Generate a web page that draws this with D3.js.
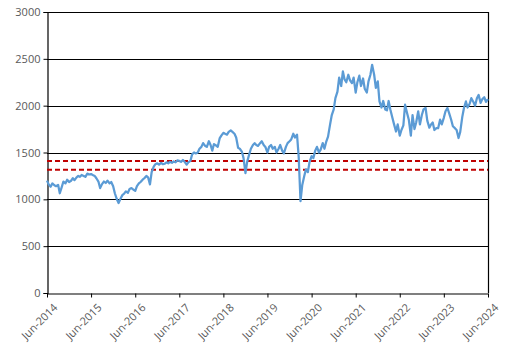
<!DOCTYPE html>
<html>
<head>
<meta charset="utf-8">
<script src="https://cdn.jsdelivr.net/npm/d3@7"></script>
<style>
  html, body { margin: 0; padding: 0; background: #fff; }
  svg { display: block; }
</style>
</head>
<body>
<svg id="chart" width="506" height="353"></svg>
<script>
// Series: semi-monthly observations (1st and 15th) from Jun-2014 to Jun-2024
const startDate = "2014-06-01";
const values = [
  1200,1160,1135,1170,1150,1140,1155,1065,1130,1190,1170,1210,1185,1195,1225,1205,1235,1250,1240,1260,1250,1240,1275,1265,
  1270,1260,1250,1225,1190,1120,1165,1190,1175,1200,1170,1185,1140,1065,1000,960,1010,1045,1060,1085,1070,1110,1120,1105,
  1090,1140,1170,1185,1210,1225,1250,1235,1160,1290,1350,1375,1385,1370,1390,1375,1380,1395,1385,1400,1390,1405,1395,1415,
  1410,1400,1420,1400,1370,1395,1410,1480,1500,1490,1500,1540,1560,1600,1570,1560,1620,1580,1520,1590,1575,1560,1650,1680,
  1710,1700,1690,1720,1735,1720,1700,1660,1550,1540,1510,1440,1280,1400,1480,1540,1580,1600,1580,1570,1600,1620,1580,1560,
  1500,1560,1580,1540,1560,1500,1540,1580,1520,1490,1560,1600,1620,1640,1700,1660,1690,1450,980,1150,1250,1320,1290,1400,
  1460,1440,1520,1560,1500,1530,1600,1540,1620,1670,1800,1900,1960,2080,2150,2300,2210,2365,2280,2250,2330,2270,2240,2300,
  2140,2250,2320,2210,2290,2180,2140,2260,2330,2436,2330,2190,2260,2045,1980,2050,1960,1950,2050,1960,1870,1800,1724,1800,
  1680,1740,1790,2010,1920,1850,1680,1900,1750,1820,1940,1800,1900,1960,1975,1840,1765,1800,1820,1740,1760,1760,1850,1800,
  1870,1940,1975,1920,1850,1780,1760,1740,1655,1720,1880,1975,2045,1980,2020,2080,2040,2000,2080,2115,2030,2070,2090,2040,
  2070
];
const refLines = [1410, 1315];
const yTicks = [0, 500, 1000, 1500, 2000, 2500, 3000];
const xTickYears = [2014, 2015, 2016, 2017, 2018, 2019, 2020, 2021, 2022, 2023, 2024];

const parse = d3.timeParse("%Y-%m-%d");
const t0 = parse(startDate);
const data = values.map((v, i) => {
  const m = d3.timeMonth.offset(t0, Math.floor(i / 2));
  const d = i % 2 === 0 ? m : d3.timeDay.offset(m, 14);
  return { date: d, value: v };
});

const svg = d3.select("#chart");
const margin = { left: 47, right: 18, top: 12, bottom: 60 };
const W = 506, H = 353;
const x = d3.scaleTime()
  .domain([new Date(2014, 5, 1), new Date(2024, 5, 1)])
  .range([margin.left, W - margin.right]);
const y = d3.scaleLinear().domain([0, 3000]).range([H - margin.bottom, margin.top]);

const font = "'Open Sans', 'Segoe UI', sans-serif";
const textColor = "#595959";

// gridlines
svg.append("g").selectAll("line").data(yTicks.filter(t => t > 0)).join("line")
  .attr("x1", x.range()[0]).attr("x2", x.range()[1])
  .attr("y1", d => Math.round(y(d)) + 0.5).attr("y2", d => Math.round(y(d)) + 0.5)
  .attr("stroke", "#000").attr("stroke-width", 1.2);

// right border
svg.append("line")
  .attr("x1", Math.round(x.range()[1]) + 0.5).attr("x2", Math.round(x.range()[1]) + 0.5)
  .attr("y1", y(3000)).attr("y2", y(0))
  .attr("stroke", "#000").attr("stroke-width", 1.2);

// y axis
const yAxis = svg.append("g")
  .attr("transform", `translate(${margin.left + 0.5},0)`)
  .call(d3.axisLeft(y).tickValues(yTicks).tickSize(4).tickPadding(3).tickFormat(d3.format("d")));
yAxis.select(".domain").attr("stroke", "#000").attr("stroke-width", 1.2);
yAxis.selectAll(".tick line").attr("stroke", "#000");
yAxis.selectAll("text").attr("fill", textColor).style("font-family", font).style("font-size", "11px");

// x axis
const xAxis = svg.append("g")
  .attr("transform", `translate(0,${Math.round(y(0)) + 0.5})`)
  .call(d3.axisBottom(x)
    .tickValues(xTickYears.map(yr => new Date(yr, 5, 1)))
    .tickSize(4)
    .tickSizeOuter(0)
    .tickFormat(d3.timeFormat("Jun-%Y")));
xAxis.select(".domain").attr("stroke", "#000").attr("stroke-width", 1.2);
xAxis.selectAll(".tick line").attr("stroke", "#000");
xAxis.selectAll("text")
  .attr("fill", textColor)
  .style("font-family", font).style("font-size", "11px")
  .attr("text-anchor", "end")
  .attr("dy", null)
  .attr("transform", "translate(4,8) rotate(-45)")
  .attr("y", 0).attr("x", 0)
  .attr("dominant-baseline", "hanging");

// reference lines
svg.append("g").selectAll("line").data(refLines).join("line")
  .attr("x1", x.range()[0]).attr("x2", x.range()[1])
  .attr("y1", d => y(d)).attr("y2", d => y(d))
  .attr("stroke", "#c00000").attr("stroke-width", 2)
  .attr("stroke-dasharray", "5,3");

// series line
svg.append("path")
  .datum(data)
  .attr("fill", "none")
  .attr("stroke", "#5b9bd5")
  .attr("stroke-width", 2.25)
  .attr("stroke-linejoin", "round")
  .attr("d", d3.line().x(d => x(d.date)).y(d => y(d.value)));
</script>
</body>
</html>
